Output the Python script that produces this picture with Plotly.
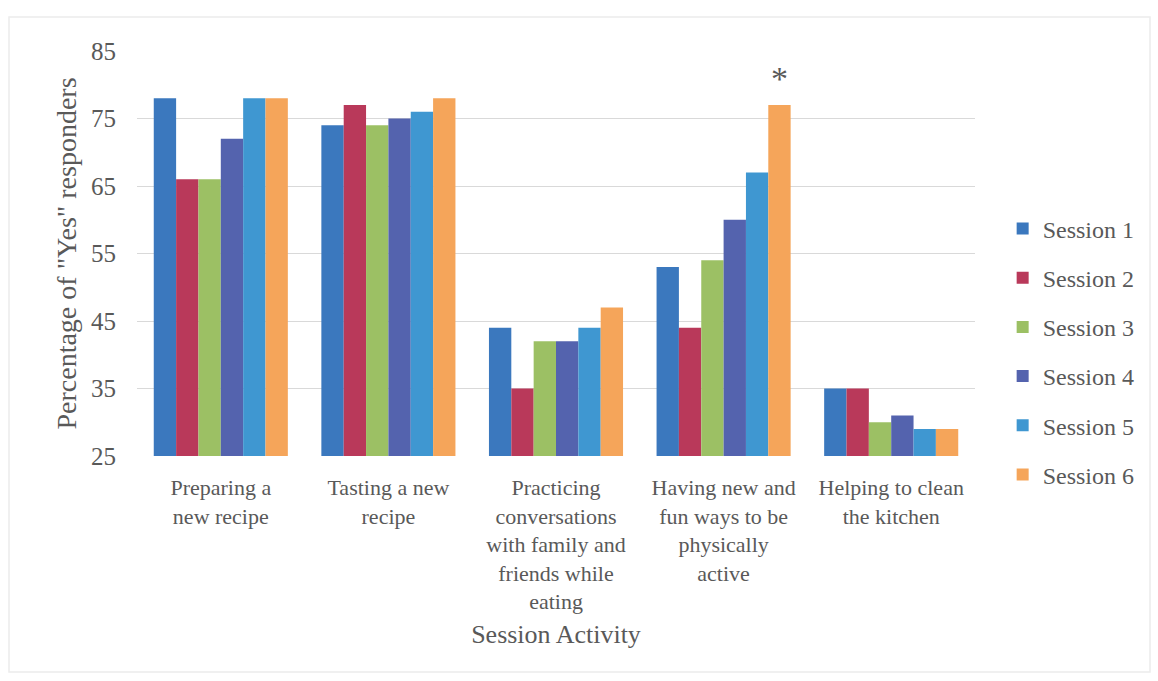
import plotly.graph_objects as go

# Session activities (x categories)
activities = [
    "Preparing a<br>new recipe",
    "Tasting a new<br>recipe",
    "Practicing<br>conversations<br>with family and<br>friends while<br>eating",
    "Having new and<br>fun ways to be<br>physically<br>active",
    "Helping to clean<br>the kitchen",
]

# Percentage of "Yes" responders per session
session_1 = [78, 74, 44, 53, 35]
session_2 = [66, 77, 35, 44, 35]
session_3 = [66, 74, 42, 54, 30]
session_4 = [72, 75, 42, 60, 31]
session_5 = [78, 76, 44, 67, 29]
session_6 = [78, 78, 47, 77, 29]

session_names = ["Session 1", "Session 2", "Session 3", "Session 4", "Session 5", "Session 6"]
session_values = [session_1, session_2, session_3, session_4, session_5, session_6]
session_colors = ["#3b78be", "#b9395a", "#9cc064", "#5463ae", "#3f97d1", "#f5a55a"]

y_ticks = [25, 35, 45, 55, 65, 75, 85]

# Significance marker on the last session of the "physically active" group
star_group = 3
star_session = 5

FONT = "Liberation Serif"
TEXT_COLOR = "#595959"

fig = go.Figure()
for i, (name, vals, col) in enumerate(zip(session_names, session_values, session_colors)):
    fig.add_trace(go.Bar(
        name=name,
        x=activities,
        y=vals,
        marker=dict(color=col, line=dict(width=0)),
        legendgroup=f"g{i}",
    ))

n_series = len(session_names)
group_width = 0.8
star_x = star_group + (star_session - (n_series - 1) / 2) * group_width / n_series
fig.add_annotation(
    x=star_x, y=session_values[star_session][star_group],
    xref="x", yref="y",
    text="*", showarrow=False,
    font=dict(family=FONT, size=34, color=TEXT_COLOR),
    yanchor="middle", yshift=27,
)

# faint frame around the chart
fig.add_shape(
    type="rect", xref="paper", yref="paper",
    x0=(9 - 137) / 838, x1=(1150 - 137) / 838,
    y0=(456 - 672) / 405, y1=(456 - 17) / 405,
    line=dict(color="#ececec", width=1.5), layer="below",
)

fig.update_layout(
    width=1158, height=681,
    margin=dict(l=137, r=183, t=51, b=225, autoexpand=False),
    paper_bgcolor="white", plot_bgcolor="white",
    barmode="group", bargap=0.2, bargroupgap=0,
    font=dict(family=FONT, color=TEXT_COLOR),
    legend=dict(
        x=1.033, y=0.257, xanchor="left", yanchor="middle",
        font=dict(family=FONT, size=24, color=TEXT_COLOR),
        tracegroupgap=15, itemwidth=30, bgcolor="rgba(0,0,0,0)",
    ),
    xaxis=dict(
        tickfont=dict(family=FONT, size=22, color=TEXT_COLOR),
        showline=False, showgrid=False, ticks="", ticklabelstandoff=16,
        title=dict(text="Session Activity", font=dict(family=FONT, size=26, color=TEXT_COLOR), standoff=11),
    ),
    yaxis=dict(
        range=[25, 85], tickvals=y_ticks, ticktext=[str(v) for v in y_ticks],
        showgrid=True, gridcolor="#d9d9d9", gridwidth=1,
        zeroline=False, showline=False, ticks="",
        tickfont=dict(family=FONT, size=25, color=TEXT_COLOR),
        ticklabelstandoff=20,
        title=dict(text='Percentage of "Yes" responders', font=dict(family=FONT, size=28, color=TEXT_COLOR), standoff=6),
    ),
)

fig.write_html("out.html")
